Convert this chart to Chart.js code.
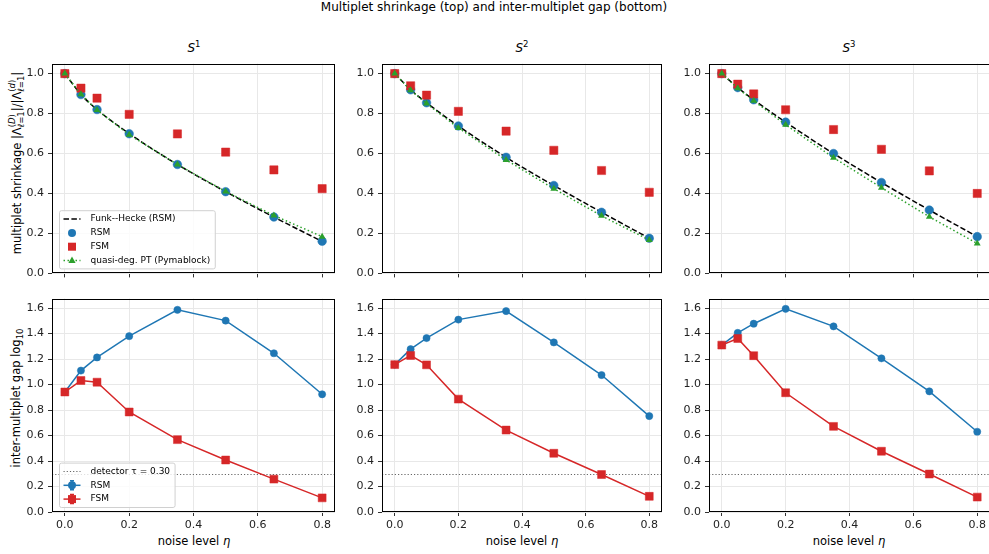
<!DOCTYPE html>
<html>
<head>
<meta charset="utf-8">
<script src="https://cdn.jsdelivr.net/npm/chart.js@4.4.1/dist/chart.umd.min.js"></script>
<style>
  body { margin: 0; width: 989px; height: 554px; overflow: hidden; background: #fff;
         font-family: "DejaVu Sans", sans-serif; color: #000; position: relative; }
  canvas { position: absolute; }
  .t { position: absolute; white-space: nowrap; font-size: 11.5px; transform: translate(-50%, -50%); }
  .rot { transform: translate(-50%, -50%) rotate(-90deg); }
  .ss { display: inline-flex; flex-direction: column; font-size: 8.5px; line-height: 9px; vertical-align: middle; }
  sup, sub { font-size: 8.5px; }
</style>
</head>
<body>

<div class="t" style="left:494px;top:7px;font-size:12px">Multiplet shrinkage (top) and inter-multiplet gap (bottom)</div>
<div class="t" style="left:194px;top:47px;font-size:12px"><i>S</i><sup>1</sup></div>
<div class="t" style="left:522px;top:47px;font-size:12px"><i>S</i><sup>2</sup></div>
<div class="t" style="left:849px;top:47px;font-size:12px"><i>S</i><sup>3</sup></div>
<div class="t rot" style="left:17px;top:163px">multiplet shrinkage |Λ<span class="ss"><span>(<i>D</i>)</span><span><i>ℓ</i>=1</span></span>|/|Λ<span class="ss"><span>(<i>d</i>)</span><span><i>ℓ</i>=1</span></span>|</div>
<div class="t rot" style="left:17px;top:398px">inter-multiplet gap log<sub>10</sub></div>
<div class="t" style="left:194px;top:541px">noise level <i>η</i></div>
<div class="t" style="left:522px;top:541px">noise level <i>η</i></div>
<div class="t" style="left:849px;top:541px">noise level <i>η</i></div>

<script>
// noise levels (x) and axis ticks
const ETA = [0, 0.05, 0.1, 0.2, 0.35, 0.5, 0.65, 0.8];
const X_TICKS = [0, 0.2, 0.4, 0.6, 0.8];
const SHRINK_TICKS = [0, 0.2, 0.4, 0.6, 0.8, 1.0];
const GAP_TICKS = [0, 0.2, 0.4, 0.6, 0.8, 1.0, 1.2, 1.4, 1.6];
const TAU = 0.30;

// top row: multiplet shrinkage
const fhS1  = [1.0, 0.896, 0.820, 0.700, 0.545, 0.409, 0.282, 0.160];
const rsmS1 = [1.0, 0.895, 0.820, 0.699, 0.545, 0.409, 0.282, 0.161];
const fsmS1 = [1.0, 0.927, 0.877, 0.796, 0.698, 0.607, 0.518, 0.424];
const ptS1  = [1.0, 0.896, 0.818, 0.694, 0.545, 0.410, 0.290, 0.184];

const fhS2  = [1.0, 0.919, 0.854, 0.738, 0.581, 0.440, 0.306, 0.176];
const rsmS2 = [1.0, 0.919, 0.854, 0.738, 0.581, 0.440, 0.306, 0.176];
const fsmS2 = [1.0, 0.939, 0.892, 0.811, 0.712, 0.616, 0.515, 0.406];
const ptS2  = [1.0, 0.917, 0.850, 0.728, 0.568, 0.424, 0.288, 0.167];

const fhS3  = [1.0, 0.930, 0.869, 0.757, 0.600, 0.455, 0.317, 0.184];
const rsmS3 = [1.0, 0.930, 0.869, 0.757, 0.600, 0.455, 0.317, 0.184];
const fsmS3 = [1.0, 0.947, 0.898, 0.819, 0.720, 0.621, 0.513, 0.400];
const ptS3  = [1.0, 0.927, 0.864, 0.744, 0.579, 0.429, 0.283, 0.150];

// bottom row: inter-multiplet gap (log10)
const gapRsmS1 = [0.942, 1.110, 1.213, 1.380, 1.587, 1.502, 1.246, 0.924];
const gapFsmS1 = [0.942, 1.032, 1.019, 0.785, 0.568, 0.408, 0.258, 0.111];
const gapRsmS2 = [1.157, 1.278, 1.365, 1.510, 1.577, 1.331, 1.075, 0.753];
const gapFsmS2 = [1.157, 1.229, 1.155, 0.886, 0.643, 0.461, 0.294, 0.123];
const gapRsmS3 = [1.310, 1.406, 1.478, 1.595, 1.457, 1.206, 0.947, 0.630];
const gapFsmS3 = [1.310, 1.362, 1.227, 0.936, 0.672, 0.477, 0.298, 0.117];

const BLUE = '#1f77b4', RED = '#d62728', GREEN = '#2ca02c';
const FONT = '"DejaVu Sans", sans-serif';

const pts = (ys) => ETA.map((x, i) => ({ x, y: ys[i] }));

/* ---- small marker drawers for the in-axes legends ---- */
function marker(ctx, kind, x, y, color) {
  ctx.save();
  ctx.fillStyle = color;
  ctx.setLineDash([]);
  ctx.beginPath();
  if (kind === 'circle') ctx.arc(x, y, 4, 0, Math.PI * 2);
  if (kind === 'rect') ctx.rect(x - 4, y - 4, 8, 8);
  if (kind === 'triangle') { ctx.moveTo(x, y - 4); ctx.lineTo(x + 3.6, y + 2.6); ctx.lineTo(x - 3.6, y + 2.6); ctx.closePath(); }
  ctx.fill();
  ctx.restore();
}

function drawLegend(chart, items) {
  const a = chart.chartArea, ctx = chart.ctx;
  ctx.save();
  ctx.font = '9px ' + FONT;
  const rowH = 13.8;
  const tw = Math.max(...items.map(it => ctx.measureText(it.label).width));
  const bx = a.left + 7.5, bw = 31 + tw + 5, bh = items.length * rowH + 3;
  const by = a.bottom - 4.5 - bh;
  ctx.beginPath();
  ctx.roundRect(bx, by, bw, bh, 2);
  ctx.fillStyle = 'rgba(255,255,255,0.8)';
  ctx.fill();
  ctx.strokeStyle = '#d0d0d0';
  ctx.lineWidth = 1;
  ctx.stroke();
  items.forEach((it, i) => {
    const cy = by + 1.5 + rowH * (i + 0.5);
    const x0 = bx + 4, x1 = bx + 21, xm = (x0 + x1) / 2;
    if (it.line) {
      ctx.beginPath();
      ctx.setLineDash(it.dash || []);
      ctx.strokeStyle = it.color;
      ctx.lineWidth = it.width || 1.5;
      ctx.moveTo(x0, cy); ctx.lineTo(x1, cy);
      ctx.stroke();
      ctx.setLineDash([]);
    }
    if (it.errbar) {
      ctx.beginPath();
      ctx.strokeStyle = it.color;
      ctx.lineWidth = 1.5;
      ctx.moveTo(xm, cy - 4.5); ctx.lineTo(xm, cy + 4.5);
      ctx.moveTo(xm - 2, cy - 4.5); ctx.lineTo(xm + 2, cy - 4.5);
      ctx.moveTo(xm - 2, cy + 4.5); ctx.lineTo(xm + 2, cy + 4.5);
      ctx.stroke();
    }
    if (it.marker) marker(ctx, it.marker, xm, cy, it.color);
    ctx.fillStyle = '#000';
    ctx.textBaseline = 'middle';
    ctx.fillText(it.label, bx + 31, cy);
  });
  ctx.restore();
}

/* ---- axes frame (all four spines) ---- */
const framePlugin = {
  id: 'frame',
  afterDraw(chart) {
    const a = chart.chartArea, ctx = chart.ctx;
    ctx.save();
    ctx.strokeStyle = '#000';
    ctx.lineWidth = 1;
    const x0 = Math.round(a.left) + 0.5, y0 = Math.round(a.top) + 0.5;
    const x1 = Math.round(a.right) - 0.5, y1 = Math.round(a.bottom) - 0.5;
    ctx.strokeRect(x0, y0, x1 - x0, y1 - y0);
    ctx.restore();
  }
};

/* ---- detector threshold line, through the y scale ---- */
const tauPlugin = {
  id: 'tau',
  beforeDatasetsDraw(chart, args, opts) {
    if (!opts.show) return;
    const a = chart.chartArea, ctx = chart.ctx;
    const y = Math.round(chart.scales.y.getPixelForValue(TAU)) + 0.5;
    ctx.save();
    ctx.strokeStyle = '#666';
    ctx.lineWidth = 1;
    ctx.setLineDash([1.2, 2]);
    ctx.beginPath();
    ctx.moveTo(a.left, y); ctx.lineTo(a.right, y);
    ctx.stroke();
    ctx.restore();
  }
};

const legendPlugin = {
  id: 'inlegend',
  afterDatasetsDraw(chart, args, opts) {
    if (opts.items) drawLegend(chart, opts.items);
  }
};

const COLS = [{ l: 52, w: 283 }, { l: 382, w: 280 }, { l: 709, w: 281 }];
const ROWS = [{ t: 61, h: 215 }, { t: 296, h: 216 }];

function makePanel(col, row, datasets, yTicks, yMax, legendItems) {
  const LEFT = 50, TOP = 8, RIGHT = 8;
  const xh = row === 0 ? 8 : 30;
  const c = COLS[col], r = ROWS[row];
  const cv = document.createElement('canvas');
  cv.width = c.w + LEFT + RIGHT;
  cv.height = r.h + TOP + xh;
  cv.style.left = (c.l - LEFT) + 'px';
  cv.style.top = (r.t - TOP) + 'px';
  document.body.appendChild(cv);

  const grid = { color: '#e8e8e8', lineWidth: 1, tickLength: 4, tickColor: '#333', drawTicks: true };
  new Chart(cv, {
    type: 'line',
    data: { datasets },
    options: {
      responsive: false,
      animation: false,
      devicePixelRatio: 1,
      layout: { padding: { left: 0, top: TOP, right: RIGHT, bottom: 0 } },
      plugins: {
        legend: { display: false },
        tooltip: { enabled: false },
        tau: { show: row === 1 },
        inlegend: { items: legendItems }
      },
      scales: {
        x: {
          type: 'linear', min: -0.04, max: 0.84,
          grid, border: { display: false },
          afterBuildTicks: (s) => { s.ticks = X_TICKS.map(v => ({ value: v })); },
          afterFit: (s) => { s.height = xh; },
          ticks: { display: row === 1, color: '#222', padding: 3, maxRotation: 0,
                   font: { family: FONT, size: 11 }, callback: (v) => v.toFixed(1) }
        },
        y: {
          type: 'linear', min: 0, max: yMax,
          grid, border: { display: false },
          afterBuildTicks: (s) => { s.ticks = yTicks.map(v => ({ value: v })); },
          afterFit: (s) => { s.width = LEFT; },
          ticks: { color: '#222', padding: 4, font: { family: FONT, size: 11 },
                   callback: (v) => v.toFixed(1) }
        }
      }
    },
    plugins: [framePlugin, tauPlugin, legendPlugin]
  });
}

function shrinkSets(fh, rsm, fsm, pt) {
  return [
    { label: 'Funk--Hecke (RSM)', data: pts(fh), borderColor: '#000', borderWidth: 1.5,
      borderDash: [5.5, 2.4], pointRadius: 0, cubicInterpolationMode: 'monotone', order: 4 },
    { label: 'RSM', data: pts(rsm), showLine: false, pointStyle: 'circle', pointRadius: 4.3,
      pointBackgroundColor: BLUE, pointBorderColor: BLUE, pointBorderWidth: 0.5, order: 3 },
    { label: 'FSM', data: pts(fsm), showLine: false, pointStyle: 'rect', pointRadius: 5.8,
      pointBackgroundColor: RED, pointBorderColor: RED, pointBorderWidth: 0.5, order: 2 },
    { label: 'quasi-deg. PT (Pymablock)', data: pts(pt), borderColor: GREEN, borderWidth: 1.5,
      borderDash: [1.5, 2.5], pointStyle: 'triangle', pointRadius: 4,
      pointBackgroundColor: GREEN, pointBorderColor: GREEN, pointBorderWidth: 0, order: 1 }
  ];
}

function gapSets(rsm, fsm) {
  return [
    { label: 'RSM', data: pts(rsm), borderColor: BLUE, borderWidth: 1.5, pointStyle: 'circle',
      pointRadius: 3.6, pointBackgroundColor: BLUE, pointBorderColor: BLUE, pointBorderWidth: 0.5, order: 2 },
    { label: 'FSM', data: pts(fsm), borderColor: RED, borderWidth: 1.5, pointStyle: 'rect',
      pointRadius: 5.6, pointBackgroundColor: RED, pointBorderColor: RED, pointBorderWidth: 0.5, order: 1 }
  ];
}

const shrinkLegend = [
  { label: 'Funk--Hecke (RSM)', line: true, color: '#000', dash: [5.5, 2.4] },
  { label: 'RSM', marker: 'circle', color: BLUE },
  { label: 'FSM', marker: 'rect', color: RED },
  { label: 'quasi-deg. PT (Pymablock)', line: true, color: GREEN, dash: [1.5, 2.5], marker: 'triangle' }
];
const gapLegend = [
  { label: 'detector \u03C4 = 0.30', line: true, color: '#666', dash: [1.2, 2], width: 1 },
  { label: 'RSM', line: true, errbar: true, marker: 'circle', color: BLUE },
  { label: 'FSM', line: true, errbar: true, marker: 'rect', color: RED }
];

makePanel(0, 0, shrinkSets(fhS1, rsmS1, fsmS1, ptS1), SHRINK_TICKS, 1.05, shrinkLegend);
makePanel(1, 0, shrinkSets(fhS2, rsmS2, fsmS2, ptS2), SHRINK_TICKS, 1.05, null);
makePanel(2, 0, shrinkSets(fhS3, rsmS3, fsmS3, ptS3), SHRINK_TICKS, 1.05, null);
makePanel(0, 1, gapSets(gapRsmS1, gapFsmS1), GAP_TICKS, 1.675, gapLegend);
makePanel(1, 1, gapSets(gapRsmS2, gapFsmS2), GAP_TICKS, 1.675, null);
makePanel(2, 1, gapSets(gapRsmS3, gapFsmS3), GAP_TICKS, 1.675, null);
</script>
</body>
</html>
